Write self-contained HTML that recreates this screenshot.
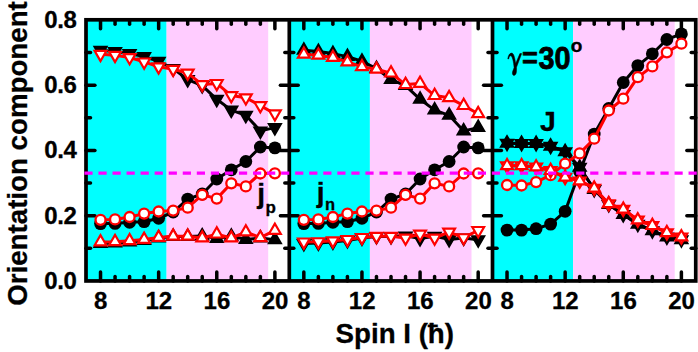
<!DOCTYPE html>
<html><head><meta charset="utf-8"><title>chart</title>
<style>html,body{margin:0;padding:0;background:#fff;}svg{display:block;}</style></head>
<body>
<svg width="698" height="352" viewBox="0 0 698 352">
<rect x="0" y="0" width="698" height="352" fill="#fff"/>
<rect x="86.00" y="19.8" width="80.60" height="261.15" fill="#00ffff"/>
<rect x="166.60" y="19.8" width="101.60" height="261.15" fill="#ffccff"/>
<rect x="289.30" y="19.8" width="80.60" height="261.15" fill="#00ffff"/>
<rect x="369.90" y="19.8" width="101.60" height="261.15" fill="#ffccff"/>
<rect x="492.50" y="19.8" width="80.60" height="261.15" fill="#00ffff"/>
<rect x="573.10" y="19.8" width="101.60" height="261.15" fill="#ffccff"/>
<g stroke="#000" stroke-width="3.7" fill="none" stroke-linecap="butt">
<rect x="86.0" y="19.8" width="609.75" height="261.15"/>
<line x1="289.3" y1="19.8" x2="289.3" y2="280.95"/>
<line x1="492.5" y1="19.8" x2="492.5" y2="280.95"/>
</g>
<g stroke="#000" stroke-width="3.5" fill="none" stroke-linecap="round">
<line x1="100.53" y1="19.8" x2="100.53" y2="28.70"/>
<line x1="100.53" y1="280.95" x2="100.53" y2="272.05"/>
<line x1="115.06" y1="19.8" x2="115.06" y2="24.30"/>
<line x1="115.06" y1="280.95" x2="115.06" y2="276.45"/>
<line x1="129.59" y1="19.8" x2="129.59" y2="24.30"/>
<line x1="129.59" y1="280.95" x2="129.59" y2="276.45"/>
<line x1="144.12" y1="19.8" x2="144.12" y2="24.30"/>
<line x1="144.12" y1="280.95" x2="144.12" y2="276.45"/>
<line x1="158.65" y1="19.8" x2="158.65" y2="28.70"/>
<line x1="158.65" y1="280.95" x2="158.65" y2="272.05"/>
<line x1="173.18" y1="19.8" x2="173.18" y2="24.30"/>
<line x1="173.18" y1="280.95" x2="173.18" y2="276.45"/>
<line x1="187.71" y1="19.8" x2="187.71" y2="24.30"/>
<line x1="187.71" y1="280.95" x2="187.71" y2="276.45"/>
<line x1="202.24" y1="19.8" x2="202.24" y2="24.30"/>
<line x1="202.24" y1="280.95" x2="202.24" y2="276.45"/>
<line x1="216.77" y1="19.8" x2="216.77" y2="28.70"/>
<line x1="216.77" y1="280.95" x2="216.77" y2="272.05"/>
<line x1="231.30" y1="19.8" x2="231.30" y2="24.30"/>
<line x1="231.30" y1="280.95" x2="231.30" y2="276.45"/>
<line x1="245.83" y1="19.8" x2="245.83" y2="24.30"/>
<line x1="245.83" y1="280.95" x2="245.83" y2="276.45"/>
<line x1="260.36" y1="19.8" x2="260.36" y2="24.30"/>
<line x1="260.36" y1="280.95" x2="260.36" y2="276.45"/>
<line x1="274.89" y1="19.8" x2="274.89" y2="28.70"/>
<line x1="274.89" y1="280.95" x2="274.89" y2="272.05"/>
<line x1="86.0" y1="248.32" x2="90.50" y2="248.32"/>
<line x1="289.3" y1="248.32" x2="284.80" y2="248.32"/>
<line x1="86.0" y1="215.70" x2="94.90" y2="215.70"/>
<line x1="289.3" y1="215.70" x2="280.40" y2="215.70"/>
<line x1="86.0" y1="183.07" x2="90.50" y2="183.07"/>
<line x1="289.3" y1="183.07" x2="284.80" y2="183.07"/>
<line x1="86.0" y1="150.45" x2="94.90" y2="150.45"/>
<line x1="289.3" y1="150.45" x2="280.40" y2="150.45"/>
<line x1="86.0" y1="117.82" x2="90.50" y2="117.82"/>
<line x1="289.3" y1="117.82" x2="284.80" y2="117.82"/>
<line x1="86.0" y1="85.20" x2="94.90" y2="85.20"/>
<line x1="289.3" y1="85.20" x2="280.40" y2="85.20"/>
<line x1="86.0" y1="52.58" x2="90.50" y2="52.58"/>
<line x1="289.3" y1="52.58" x2="284.80" y2="52.58"/>
<line x1="303.83" y1="19.8" x2="303.83" y2="28.70"/>
<line x1="303.83" y1="280.95" x2="303.83" y2="272.05"/>
<line x1="318.36" y1="19.8" x2="318.36" y2="24.30"/>
<line x1="318.36" y1="280.95" x2="318.36" y2="276.45"/>
<line x1="332.89" y1="19.8" x2="332.89" y2="24.30"/>
<line x1="332.89" y1="280.95" x2="332.89" y2="276.45"/>
<line x1="347.42" y1="19.8" x2="347.42" y2="24.30"/>
<line x1="347.42" y1="280.95" x2="347.42" y2="276.45"/>
<line x1="361.95" y1="19.8" x2="361.95" y2="28.70"/>
<line x1="361.95" y1="280.95" x2="361.95" y2="272.05"/>
<line x1="376.48" y1="19.8" x2="376.48" y2="24.30"/>
<line x1="376.48" y1="280.95" x2="376.48" y2="276.45"/>
<line x1="391.01" y1="19.8" x2="391.01" y2="24.30"/>
<line x1="391.01" y1="280.95" x2="391.01" y2="276.45"/>
<line x1="405.54" y1="19.8" x2="405.54" y2="24.30"/>
<line x1="405.54" y1="280.95" x2="405.54" y2="276.45"/>
<line x1="420.07" y1="19.8" x2="420.07" y2="28.70"/>
<line x1="420.07" y1="280.95" x2="420.07" y2="272.05"/>
<line x1="434.60" y1="19.8" x2="434.60" y2="24.30"/>
<line x1="434.60" y1="280.95" x2="434.60" y2="276.45"/>
<line x1="449.13" y1="19.8" x2="449.13" y2="24.30"/>
<line x1="449.13" y1="280.95" x2="449.13" y2="276.45"/>
<line x1="463.66" y1="19.8" x2="463.66" y2="24.30"/>
<line x1="463.66" y1="280.95" x2="463.66" y2="276.45"/>
<line x1="478.19" y1="19.8" x2="478.19" y2="28.70"/>
<line x1="478.19" y1="280.95" x2="478.19" y2="272.05"/>
<line x1="289.3" y1="248.32" x2="293.80" y2="248.32"/>
<line x1="492.5" y1="248.32" x2="488.00" y2="248.32"/>
<line x1="289.3" y1="215.70" x2="298.20" y2="215.70"/>
<line x1="492.5" y1="215.70" x2="483.60" y2="215.70"/>
<line x1="289.3" y1="183.07" x2="293.80" y2="183.07"/>
<line x1="492.5" y1="183.07" x2="488.00" y2="183.07"/>
<line x1="289.3" y1="150.45" x2="298.20" y2="150.45"/>
<line x1="492.5" y1="150.45" x2="483.60" y2="150.45"/>
<line x1="289.3" y1="117.82" x2="293.80" y2="117.82"/>
<line x1="492.5" y1="117.82" x2="488.00" y2="117.82"/>
<line x1="289.3" y1="85.20" x2="298.20" y2="85.20"/>
<line x1="492.5" y1="85.20" x2="483.60" y2="85.20"/>
<line x1="289.3" y1="52.58" x2="293.80" y2="52.58"/>
<line x1="492.5" y1="52.58" x2="488.00" y2="52.58"/>
<line x1="507.03" y1="19.8" x2="507.03" y2="28.70"/>
<line x1="507.03" y1="280.95" x2="507.03" y2="272.05"/>
<line x1="521.56" y1="19.8" x2="521.56" y2="24.30"/>
<line x1="521.56" y1="280.95" x2="521.56" y2="276.45"/>
<line x1="536.09" y1="19.8" x2="536.09" y2="24.30"/>
<line x1="536.09" y1="280.95" x2="536.09" y2="276.45"/>
<line x1="550.62" y1="19.8" x2="550.62" y2="24.30"/>
<line x1="550.62" y1="280.95" x2="550.62" y2="276.45"/>
<line x1="565.15" y1="19.8" x2="565.15" y2="28.70"/>
<line x1="565.15" y1="280.95" x2="565.15" y2="272.05"/>
<line x1="579.68" y1="19.8" x2="579.68" y2="24.30"/>
<line x1="579.68" y1="280.95" x2="579.68" y2="276.45"/>
<line x1="594.21" y1="19.8" x2="594.21" y2="24.30"/>
<line x1="594.21" y1="280.95" x2="594.21" y2="276.45"/>
<line x1="608.74" y1="19.8" x2="608.74" y2="24.30"/>
<line x1="608.74" y1="280.95" x2="608.74" y2="276.45"/>
<line x1="623.27" y1="19.8" x2="623.27" y2="28.70"/>
<line x1="623.27" y1="280.95" x2="623.27" y2="272.05"/>
<line x1="637.80" y1="19.8" x2="637.80" y2="24.30"/>
<line x1="637.80" y1="280.95" x2="637.80" y2="276.45"/>
<line x1="652.33" y1="19.8" x2="652.33" y2="24.30"/>
<line x1="652.33" y1="280.95" x2="652.33" y2="276.45"/>
<line x1="666.86" y1="19.8" x2="666.86" y2="24.30"/>
<line x1="666.86" y1="280.95" x2="666.86" y2="276.45"/>
<line x1="681.39" y1="19.8" x2="681.39" y2="28.70"/>
<line x1="681.39" y1="280.95" x2="681.39" y2="272.05"/>
<line x1="492.5" y1="248.32" x2="497.00" y2="248.32"/>
<line x1="695.75" y1="248.32" x2="691.25" y2="248.32"/>
<line x1="492.5" y1="215.70" x2="501.40" y2="215.70"/>
<line x1="695.75" y1="215.70" x2="686.85" y2="215.70"/>
<line x1="492.5" y1="183.07" x2="497.00" y2="183.07"/>
<line x1="695.75" y1="183.07" x2="691.25" y2="183.07"/>
<line x1="492.5" y1="150.45" x2="501.40" y2="150.45"/>
<line x1="695.75" y1="150.45" x2="686.85" y2="150.45"/>
<line x1="492.5" y1="117.82" x2="497.00" y2="117.82"/>
<line x1="695.75" y1="117.82" x2="691.25" y2="117.82"/>
<line x1="492.5" y1="85.20" x2="501.40" y2="85.20"/>
<line x1="695.75" y1="85.20" x2="686.85" y2="85.20"/>
<line x1="492.5" y1="52.58" x2="497.00" y2="52.58"/>
<line x1="695.75" y1="52.58" x2="691.25" y2="52.58"/>
</g>
<polyline points="100.53,50.30 115.06,51.60 129.59,53.60 144.12,56.60 158.65,61.30 173.18,68.50 187.71,79.60 202.24,85.60 216.77,99.30 231.30,110.10 245.83,115.30 260.36,130.90 274.89,127.60" fill="none" stroke="#000" stroke-width="3" stroke-linejoin="round"/>
<polygon points="100.53,57.11 94.63,46.89 106.43,46.89" fill="#000" stroke="#000" stroke-width="2.2" stroke-linejoin="miter"/>
<polygon points="115.06,58.41 109.16,48.19 120.96,48.19" fill="#000" stroke="#000" stroke-width="2.2" stroke-linejoin="miter"/>
<polygon points="129.59,60.41 123.69,50.19 135.49,50.19" fill="#000" stroke="#000" stroke-width="2.2" stroke-linejoin="miter"/>
<polygon points="144.12,63.41 138.22,53.19 150.02,53.19" fill="#000" stroke="#000" stroke-width="2.2" stroke-linejoin="miter"/>
<polygon points="158.65,68.11 152.75,57.89 164.55,57.89" fill="#000" stroke="#000" stroke-width="2.2" stroke-linejoin="miter"/>
<polygon points="173.18,75.31 167.28,65.09 179.08,65.09" fill="#000" stroke="#000" stroke-width="2.2" stroke-linejoin="miter"/>
<polygon points="187.71,86.41 181.81,76.19 193.61,76.19" fill="#000" stroke="#000" stroke-width="2.2" stroke-linejoin="miter"/>
<polygon points="202.24,92.41 196.34,82.19 208.14,82.19" fill="#000" stroke="#000" stroke-width="2.2" stroke-linejoin="miter"/>
<polygon points="216.77,106.11 210.87,95.89 222.67,95.89" fill="#000" stroke="#000" stroke-width="2.2" stroke-linejoin="miter"/>
<polygon points="231.30,116.91 225.40,106.69 237.20,106.69" fill="#000" stroke="#000" stroke-width="2.2" stroke-linejoin="miter"/>
<polygon points="245.83,122.11 239.93,111.89 251.73,111.89" fill="#000" stroke="#000" stroke-width="2.2" stroke-linejoin="miter"/>
<polygon points="260.36,137.71 254.46,127.49 266.26,127.49" fill="#000" stroke="#000" stroke-width="2.2" stroke-linejoin="miter"/>
<polygon points="274.89,134.41 268.99,124.19 280.79,124.19" fill="#000" stroke="#000" stroke-width="2.2" stroke-linejoin="miter"/>
<polyline points="100.53,223.60 115.06,223.40 129.59,222.30 144.12,221.70 158.65,218.30 173.18,212.00 187.71,199.10 202.24,194.00 216.77,179.00 231.30,169.80 245.83,161.50 260.36,147.00 274.89,147.90" fill="none" stroke="#000" stroke-width="3" stroke-linejoin="round"/>
<circle cx="100.53" cy="223.60" r="6.4" fill="#000"/>
<circle cx="115.06" cy="223.40" r="6.4" fill="#000"/>
<circle cx="129.59" cy="222.30" r="6.4" fill="#000"/>
<circle cx="144.12" cy="221.70" r="6.4" fill="#000"/>
<circle cx="158.65" cy="218.30" r="6.4" fill="#000"/>
<circle cx="173.18" cy="212.00" r="6.4" fill="#000"/>
<circle cx="187.71" cy="199.10" r="6.4" fill="#000"/>
<circle cx="202.24" cy="194.00" r="6.4" fill="#000"/>
<circle cx="216.77" cy="179.00" r="6.4" fill="#000"/>
<circle cx="231.30" cy="169.80" r="6.4" fill="#000"/>
<circle cx="245.83" cy="161.50" r="6.4" fill="#000"/>
<circle cx="260.36" cy="147.00" r="6.4" fill="#000"/>
<circle cx="274.89" cy="147.90" r="6.4" fill="#000"/>
<polyline points="100.53,243.50 115.06,243.00 129.59,242.00 144.12,240.50 158.65,238.00 173.18,236.50 187.71,236.50 202.24,235.90 216.77,238.60 231.30,236.30 245.83,239.40 260.36,238.00 274.89,239.70" fill="none" stroke="#000" stroke-width="3" stroke-linejoin="round"/>
<polygon points="100.53,236.69 94.63,246.91 106.43,246.91" fill="#000" stroke="#000" stroke-width="2.2" stroke-linejoin="miter"/>
<polygon points="115.06,236.19 109.16,246.41 120.96,246.41" fill="#000" stroke="#000" stroke-width="2.2" stroke-linejoin="miter"/>
<polygon points="129.59,235.19 123.69,245.41 135.49,245.41" fill="#000" stroke="#000" stroke-width="2.2" stroke-linejoin="miter"/>
<polygon points="144.12,233.69 138.22,243.91 150.02,243.91" fill="#000" stroke="#000" stroke-width="2.2" stroke-linejoin="miter"/>
<polygon points="158.65,231.19 152.75,241.41 164.55,241.41" fill="#000" stroke="#000" stroke-width="2.2" stroke-linejoin="miter"/>
<polygon points="173.18,229.69 167.28,239.91 179.08,239.91" fill="#000" stroke="#000" stroke-width="2.2" stroke-linejoin="miter"/>
<polygon points="187.71,229.69 181.81,239.91 193.61,239.91" fill="#000" stroke="#000" stroke-width="2.2" stroke-linejoin="miter"/>
<polygon points="202.24,229.09 196.34,239.31 208.14,239.31" fill="#000" stroke="#000" stroke-width="2.2" stroke-linejoin="miter"/>
<polygon points="216.77,231.79 210.87,242.01 222.67,242.01" fill="#000" stroke="#000" stroke-width="2.2" stroke-linejoin="miter"/>
<polygon points="231.30,229.49 225.40,239.71 237.20,239.71" fill="#000" stroke="#000" stroke-width="2.2" stroke-linejoin="miter"/>
<polygon points="245.83,232.59 239.93,242.81 251.73,242.81" fill="#000" stroke="#000" stroke-width="2.2" stroke-linejoin="miter"/>
<polygon points="260.36,231.19 254.46,241.41 266.26,241.41" fill="#000" stroke="#000" stroke-width="2.2" stroke-linejoin="miter"/>
<polygon points="274.89,232.89 268.99,243.11 280.79,243.11" fill="#000" stroke="#000" stroke-width="2.2" stroke-linejoin="miter"/>
<polyline points="100.53,54.30 115.06,55.30 129.59,57.50 144.12,61.90 158.65,66.80 173.18,69.30 187.71,73.10 202.24,84.60 216.77,83.40 231.30,95.60 245.83,97.70 260.36,105.60 274.89,113.70" fill="none" stroke="#ff0000" stroke-width="3" stroke-linejoin="round"/>
<polygon points="100.53,61.11 94.63,50.89 106.43,50.89" fill="#fff" stroke="#ff0000" stroke-width="2.2" stroke-linejoin="miter"/>
<polygon points="115.06,62.11 109.16,51.89 120.96,51.89" fill="#fff" stroke="#ff0000" stroke-width="2.2" stroke-linejoin="miter"/>
<polygon points="129.59,64.31 123.69,54.09 135.49,54.09" fill="#fff" stroke="#ff0000" stroke-width="2.2" stroke-linejoin="miter"/>
<polygon points="144.12,68.71 138.22,58.49 150.02,58.49" fill="#fff" stroke="#ff0000" stroke-width="2.2" stroke-linejoin="miter"/>
<polygon points="158.65,73.61 152.75,63.39 164.55,63.39" fill="#fff" stroke="#ff0000" stroke-width="2.2" stroke-linejoin="miter"/>
<polygon points="173.18,76.11 167.28,65.89 179.08,65.89" fill="#fff" stroke="#ff0000" stroke-width="2.2" stroke-linejoin="miter"/>
<polygon points="187.71,79.91 181.81,69.69 193.61,69.69" fill="#fff" stroke="#ff0000" stroke-width="2.2" stroke-linejoin="miter"/>
<polygon points="202.24,91.41 196.34,81.19 208.14,81.19" fill="#fff" stroke="#ff0000" stroke-width="2.2" stroke-linejoin="miter"/>
<polygon points="216.77,90.21 210.87,79.99 222.67,79.99" fill="#fff" stroke="#ff0000" stroke-width="2.2" stroke-linejoin="miter"/>
<polygon points="231.30,102.41 225.40,92.19 237.20,92.19" fill="#fff" stroke="#ff0000" stroke-width="2.2" stroke-linejoin="miter"/>
<polygon points="245.83,104.51 239.93,94.29 251.73,94.29" fill="#fff" stroke="#ff0000" stroke-width="2.2" stroke-linejoin="miter"/>
<polygon points="260.36,112.41 254.46,102.19 266.26,102.19" fill="#fff" stroke="#ff0000" stroke-width="2.2" stroke-linejoin="miter"/>
<polygon points="274.89,120.51 268.99,110.29 280.79,110.29" fill="#fff" stroke="#ff0000" stroke-width="2.2" stroke-linejoin="miter"/>
<polyline points="100.53,219.80 115.06,219.40 129.59,217.00 144.12,213.60 158.65,211.50 173.18,210.60 187.71,207.70 202.24,194.80 216.77,198.60 231.30,183.30 245.83,186.40 260.36,173.50 274.89,173.30" fill="none" stroke="#ff0000" stroke-width="3" stroke-linejoin="round"/>
<circle cx="100.53" cy="219.80" r="5.0" fill="#fff" stroke="#ff0000" stroke-width="2.3"/>
<circle cx="115.06" cy="219.40" r="5.0" fill="#fff" stroke="#ff0000" stroke-width="2.3"/>
<circle cx="129.59" cy="217.00" r="5.0" fill="#fff" stroke="#ff0000" stroke-width="2.3"/>
<circle cx="144.12" cy="213.60" r="5.0" fill="#fff" stroke="#ff0000" stroke-width="2.3"/>
<circle cx="158.65" cy="211.50" r="5.0" fill="#fff" stroke="#ff0000" stroke-width="2.3"/>
<circle cx="173.18" cy="210.60" r="5.0" fill="#fff" stroke="#ff0000" stroke-width="2.3"/>
<circle cx="187.71" cy="207.70" r="5.0" fill="#fff" stroke="#ff0000" stroke-width="2.3"/>
<circle cx="202.24" cy="194.80" r="5.0" fill="#fff" stroke="#ff0000" stroke-width="2.3"/>
<circle cx="216.77" cy="198.60" r="5.0" fill="#fff" stroke="#ff0000" stroke-width="2.3"/>
<circle cx="231.30" cy="183.30" r="5.0" fill="#fff" stroke="#ff0000" stroke-width="2.3"/>
<circle cx="245.83" cy="186.40" r="5.0" fill="#fff" stroke="#ff0000" stroke-width="2.3"/>
<circle cx="260.36" cy="173.50" r="5.0" fill="#fff" stroke="#ff0000" stroke-width="2.3"/>
<circle cx="274.89" cy="173.30" r="5.0" fill="#fff" stroke="#ff0000" stroke-width="2.3"/>
<polyline points="100.53,241.90 115.06,241.65 129.59,240.80 144.12,239.40 158.65,237.40 173.18,236.20 187.71,236.20 202.24,238.00 216.77,234.10 231.30,238.00 245.83,232.05 260.36,237.65 274.89,230.40" fill="none" stroke="#ff0000" stroke-width="3" stroke-linejoin="round"/>
<polygon points="100.53,235.09 94.63,245.31 106.43,245.31" fill="#fff" stroke="#ff0000" stroke-width="2.2" stroke-linejoin="miter"/>
<polygon points="115.06,234.84 109.16,245.06 120.96,245.06" fill="#fff" stroke="#ff0000" stroke-width="2.2" stroke-linejoin="miter"/>
<polygon points="129.59,233.99 123.69,244.21 135.49,244.21" fill="#fff" stroke="#ff0000" stroke-width="2.2" stroke-linejoin="miter"/>
<polygon points="144.12,232.59 138.22,242.81 150.02,242.81" fill="#fff" stroke="#ff0000" stroke-width="2.2" stroke-linejoin="miter"/>
<polygon points="158.65,230.59 152.75,240.81 164.55,240.81" fill="#fff" stroke="#ff0000" stroke-width="2.2" stroke-linejoin="miter"/>
<polygon points="173.18,229.39 167.28,239.61 179.08,239.61" fill="#fff" stroke="#ff0000" stroke-width="2.2" stroke-linejoin="miter"/>
<polygon points="187.71,229.39 181.81,239.61 193.61,239.61" fill="#fff" stroke="#ff0000" stroke-width="2.2" stroke-linejoin="miter"/>
<polygon points="202.24,231.19 196.34,241.41 208.14,241.41" fill="#fff" stroke="#ff0000" stroke-width="2.2" stroke-linejoin="miter"/>
<polygon points="216.77,227.29 210.87,237.51 222.67,237.51" fill="#fff" stroke="#ff0000" stroke-width="2.2" stroke-linejoin="miter"/>
<polygon points="231.30,231.19 225.40,241.41 237.20,241.41" fill="#fff" stroke="#ff0000" stroke-width="2.2" stroke-linejoin="miter"/>
<polygon points="245.83,225.24 239.93,235.46 251.73,235.46" fill="#fff" stroke="#ff0000" stroke-width="2.2" stroke-linejoin="miter"/>
<polygon points="260.36,230.84 254.46,241.06 266.26,241.06" fill="#fff" stroke="#ff0000" stroke-width="2.2" stroke-linejoin="miter"/>
<polygon points="274.89,223.59 268.99,233.81 280.79,233.81" fill="#fff" stroke="#ff0000" stroke-width="2.2" stroke-linejoin="miter"/>
<polyline points="303.83,50.30 318.36,51.60 332.89,53.60 347.42,56.60 361.95,61.30 376.48,68.50 391.01,79.60 405.54,85.60 420.07,99.30 434.60,110.10 449.13,115.30 463.66,130.90 478.19,127.60" fill="none" stroke="#000" stroke-width="3" stroke-linejoin="round"/>
<polygon points="303.83,43.49 297.93,53.71 309.73,53.71" fill="#000" stroke="#000" stroke-width="2.2" stroke-linejoin="miter"/>
<polygon points="318.36,44.79 312.46,55.01 324.26,55.01" fill="#000" stroke="#000" stroke-width="2.2" stroke-linejoin="miter"/>
<polygon points="332.89,46.79 326.99,57.01 338.79,57.01" fill="#000" stroke="#000" stroke-width="2.2" stroke-linejoin="miter"/>
<polygon points="347.42,49.79 341.52,60.01 353.32,60.01" fill="#000" stroke="#000" stroke-width="2.2" stroke-linejoin="miter"/>
<polygon points="361.95,54.49 356.05,64.71 367.85,64.71" fill="#000" stroke="#000" stroke-width="2.2" stroke-linejoin="miter"/>
<polygon points="376.48,61.69 370.58,71.91 382.38,71.91" fill="#000" stroke="#000" stroke-width="2.2" stroke-linejoin="miter"/>
<polygon points="391.01,72.79 385.11,83.01 396.91,83.01" fill="#000" stroke="#000" stroke-width="2.2" stroke-linejoin="miter"/>
<polygon points="405.54,78.79 399.64,89.01 411.44,89.01" fill="#000" stroke="#000" stroke-width="2.2" stroke-linejoin="miter"/>
<polygon points="420.07,92.49 414.17,102.71 425.97,102.71" fill="#000" stroke="#000" stroke-width="2.2" stroke-linejoin="miter"/>
<polygon points="434.60,103.29 428.70,113.51 440.50,113.51" fill="#000" stroke="#000" stroke-width="2.2" stroke-linejoin="miter"/>
<polygon points="449.13,108.49 443.23,118.71 455.03,118.71" fill="#000" stroke="#000" stroke-width="2.2" stroke-linejoin="miter"/>
<polygon points="463.66,124.09 457.76,134.31 469.56,134.31" fill="#000" stroke="#000" stroke-width="2.2" stroke-linejoin="miter"/>
<polygon points="478.19,120.79 472.29,131.01 484.09,131.01" fill="#000" stroke="#000" stroke-width="2.2" stroke-linejoin="miter"/>
<polyline points="303.83,223.60 318.36,223.40 332.89,222.30 347.42,221.70 361.95,218.30 376.48,212.00 391.01,199.10 405.54,194.00 420.07,179.00 434.60,169.80 449.13,161.50 463.66,147.00 478.19,147.90" fill="none" stroke="#000" stroke-width="3" stroke-linejoin="round"/>
<circle cx="303.83" cy="223.60" r="6.4" fill="#000"/>
<circle cx="318.36" cy="223.40" r="6.4" fill="#000"/>
<circle cx="332.89" cy="222.30" r="6.4" fill="#000"/>
<circle cx="347.42" cy="221.70" r="6.4" fill="#000"/>
<circle cx="361.95" cy="218.30" r="6.4" fill="#000"/>
<circle cx="376.48" cy="212.00" r="6.4" fill="#000"/>
<circle cx="391.01" cy="199.10" r="6.4" fill="#000"/>
<circle cx="405.54" cy="194.00" r="6.4" fill="#000"/>
<circle cx="420.07" cy="179.00" r="6.4" fill="#000"/>
<circle cx="434.60" cy="169.80" r="6.4" fill="#000"/>
<circle cx="449.13" cy="161.50" r="6.4" fill="#000"/>
<circle cx="463.66" cy="147.00" r="6.4" fill="#000"/>
<circle cx="478.19" cy="147.90" r="6.4" fill="#000"/>
<polyline points="303.83,243.50 318.36,243.00 332.89,242.00 347.42,240.50 361.95,238.00 376.48,236.50 391.01,236.50 405.54,235.90 420.07,238.60 434.60,236.30 449.13,239.40 463.66,238.00 478.19,239.70" fill="none" stroke="#000" stroke-width="3" stroke-linejoin="round"/>
<polygon points="303.83,250.31 297.93,240.09 309.73,240.09" fill="#000" stroke="#000" stroke-width="2.2" stroke-linejoin="miter"/>
<polygon points="318.36,249.81 312.46,239.59 324.26,239.59" fill="#000" stroke="#000" stroke-width="2.2" stroke-linejoin="miter"/>
<polygon points="332.89,248.81 326.99,238.59 338.79,238.59" fill="#000" stroke="#000" stroke-width="2.2" stroke-linejoin="miter"/>
<polygon points="347.42,247.31 341.52,237.09 353.32,237.09" fill="#000" stroke="#000" stroke-width="2.2" stroke-linejoin="miter"/>
<polygon points="361.95,244.81 356.05,234.59 367.85,234.59" fill="#000" stroke="#000" stroke-width="2.2" stroke-linejoin="miter"/>
<polygon points="376.48,243.31 370.58,233.09 382.38,233.09" fill="#000" stroke="#000" stroke-width="2.2" stroke-linejoin="miter"/>
<polygon points="391.01,243.31 385.11,233.09 396.91,233.09" fill="#000" stroke="#000" stroke-width="2.2" stroke-linejoin="miter"/>
<polygon points="405.54,242.71 399.64,232.49 411.44,232.49" fill="#000" stroke="#000" stroke-width="2.2" stroke-linejoin="miter"/>
<polygon points="420.07,245.41 414.17,235.19 425.97,235.19" fill="#000" stroke="#000" stroke-width="2.2" stroke-linejoin="miter"/>
<polygon points="434.60,243.11 428.70,232.89 440.50,232.89" fill="#000" stroke="#000" stroke-width="2.2" stroke-linejoin="miter"/>
<polygon points="449.13,246.21 443.23,235.99 455.03,235.99" fill="#000" stroke="#000" stroke-width="2.2" stroke-linejoin="miter"/>
<polygon points="463.66,244.81 457.76,234.59 469.56,234.59" fill="#000" stroke="#000" stroke-width="2.2" stroke-linejoin="miter"/>
<polygon points="478.19,246.51 472.29,236.29 484.09,236.29" fill="#000" stroke="#000" stroke-width="2.2" stroke-linejoin="miter"/>
<polyline points="303.83,54.30 318.36,55.30 332.89,57.50 347.42,61.90 361.95,66.80 376.48,69.30 391.01,73.10 405.54,84.60 420.07,83.40 434.60,95.60 449.13,97.70 463.66,105.60 478.19,113.70" fill="none" stroke="#ff0000" stroke-width="3" stroke-linejoin="round"/>
<polygon points="303.83,47.49 297.93,57.71 309.73,57.71" fill="#fff" stroke="#ff0000" stroke-width="2.2" stroke-linejoin="miter"/>
<polygon points="318.36,48.49 312.46,58.71 324.26,58.71" fill="#fff" stroke="#ff0000" stroke-width="2.2" stroke-linejoin="miter"/>
<polygon points="332.89,50.69 326.99,60.91 338.79,60.91" fill="#fff" stroke="#ff0000" stroke-width="2.2" stroke-linejoin="miter"/>
<polygon points="347.42,55.09 341.52,65.31 353.32,65.31" fill="#fff" stroke="#ff0000" stroke-width="2.2" stroke-linejoin="miter"/>
<polygon points="361.95,59.99 356.05,70.21 367.85,70.21" fill="#fff" stroke="#ff0000" stroke-width="2.2" stroke-linejoin="miter"/>
<polygon points="376.48,62.49 370.58,72.71 382.38,72.71" fill="#fff" stroke="#ff0000" stroke-width="2.2" stroke-linejoin="miter"/>
<polygon points="391.01,66.29 385.11,76.51 396.91,76.51" fill="#fff" stroke="#ff0000" stroke-width="2.2" stroke-linejoin="miter"/>
<polygon points="405.54,77.79 399.64,88.01 411.44,88.01" fill="#fff" stroke="#ff0000" stroke-width="2.2" stroke-linejoin="miter"/>
<polygon points="420.07,76.59 414.17,86.81 425.97,86.81" fill="#fff" stroke="#ff0000" stroke-width="2.2" stroke-linejoin="miter"/>
<polygon points="434.60,88.79 428.70,99.01 440.50,99.01" fill="#fff" stroke="#ff0000" stroke-width="2.2" stroke-linejoin="miter"/>
<polygon points="449.13,90.89 443.23,101.11 455.03,101.11" fill="#fff" stroke="#ff0000" stroke-width="2.2" stroke-linejoin="miter"/>
<polygon points="463.66,98.79 457.76,109.01 469.56,109.01" fill="#fff" stroke="#ff0000" stroke-width="2.2" stroke-linejoin="miter"/>
<polygon points="478.19,106.89 472.29,117.11 484.09,117.11" fill="#fff" stroke="#ff0000" stroke-width="2.2" stroke-linejoin="miter"/>
<polyline points="303.83,219.80 318.36,219.40 332.89,217.00 347.42,213.60 361.95,211.50 376.48,210.60 391.01,207.70 405.54,194.80 420.07,198.60 434.60,183.30 449.13,186.40 463.66,173.50 478.19,173.30" fill="none" stroke="#ff0000" stroke-width="3" stroke-linejoin="round"/>
<circle cx="303.83" cy="219.80" r="5.0" fill="#fff" stroke="#ff0000" stroke-width="2.3"/>
<circle cx="318.36" cy="219.40" r="5.0" fill="#fff" stroke="#ff0000" stroke-width="2.3"/>
<circle cx="332.89" cy="217.00" r="5.0" fill="#fff" stroke="#ff0000" stroke-width="2.3"/>
<circle cx="347.42" cy="213.60" r="5.0" fill="#fff" stroke="#ff0000" stroke-width="2.3"/>
<circle cx="361.95" cy="211.50" r="5.0" fill="#fff" stroke="#ff0000" stroke-width="2.3"/>
<circle cx="376.48" cy="210.60" r="5.0" fill="#fff" stroke="#ff0000" stroke-width="2.3"/>
<circle cx="391.01" cy="207.70" r="5.0" fill="#fff" stroke="#ff0000" stroke-width="2.3"/>
<circle cx="405.54" cy="194.80" r="5.0" fill="#fff" stroke="#ff0000" stroke-width="2.3"/>
<circle cx="420.07" cy="198.60" r="5.0" fill="#fff" stroke="#ff0000" stroke-width="2.3"/>
<circle cx="434.60" cy="183.30" r="5.0" fill="#fff" stroke="#ff0000" stroke-width="2.3"/>
<circle cx="449.13" cy="186.40" r="5.0" fill="#fff" stroke="#ff0000" stroke-width="2.3"/>
<circle cx="463.66" cy="173.50" r="5.0" fill="#fff" stroke="#ff0000" stroke-width="2.3"/>
<circle cx="478.19" cy="173.30" r="5.0" fill="#fff" stroke="#ff0000" stroke-width="2.3"/>
<polyline points="303.83,241.90 318.36,241.65 332.89,240.80 347.42,239.40 361.95,237.40 376.48,236.20 391.01,236.20 405.54,238.00 420.07,234.10 434.60,238.00 449.13,232.05 463.66,237.65 478.19,230.40" fill="none" stroke="#ff0000" stroke-width="3" stroke-linejoin="round"/>
<polygon points="303.83,248.71 297.93,238.49 309.73,238.49" fill="#fff" stroke="#ff0000" stroke-width="2.2" stroke-linejoin="miter"/>
<polygon points="318.36,248.46 312.46,238.24 324.26,238.24" fill="#fff" stroke="#ff0000" stroke-width="2.2" stroke-linejoin="miter"/>
<polygon points="332.89,247.61 326.99,237.39 338.79,237.39" fill="#fff" stroke="#ff0000" stroke-width="2.2" stroke-linejoin="miter"/>
<polygon points="347.42,246.21 341.52,235.99 353.32,235.99" fill="#fff" stroke="#ff0000" stroke-width="2.2" stroke-linejoin="miter"/>
<polygon points="361.95,244.21 356.05,233.99 367.85,233.99" fill="#fff" stroke="#ff0000" stroke-width="2.2" stroke-linejoin="miter"/>
<polygon points="376.48,243.01 370.58,232.79 382.38,232.79" fill="#fff" stroke="#ff0000" stroke-width="2.2" stroke-linejoin="miter"/>
<polygon points="391.01,243.01 385.11,232.79 396.91,232.79" fill="#fff" stroke="#ff0000" stroke-width="2.2" stroke-linejoin="miter"/>
<polygon points="405.54,244.81 399.64,234.59 411.44,234.59" fill="#fff" stroke="#ff0000" stroke-width="2.2" stroke-linejoin="miter"/>
<polygon points="420.07,240.91 414.17,230.69 425.97,230.69" fill="#fff" stroke="#ff0000" stroke-width="2.2" stroke-linejoin="miter"/>
<polygon points="434.60,244.81 428.70,234.59 440.50,234.59" fill="#fff" stroke="#ff0000" stroke-width="2.2" stroke-linejoin="miter"/>
<polygon points="449.13,238.86 443.23,228.64 455.03,228.64" fill="#fff" stroke="#ff0000" stroke-width="2.2" stroke-linejoin="miter"/>
<polygon points="463.66,244.46 457.76,234.24 469.56,234.24" fill="#fff" stroke="#ff0000" stroke-width="2.2" stroke-linejoin="miter"/>
<polygon points="478.19,237.21 472.29,226.99 484.09,226.99" fill="#fff" stroke="#ff0000" stroke-width="2.2" stroke-linejoin="miter"/>
<polyline points="507.03,143.20 521.56,143.40 536.09,143.50 550.62,146.20 565.15,151.70 579.68,167.30 594.21,189.50 608.74,204.50 623.27,214.60 637.80,224.20 652.33,230.70 666.86,237.00 681.39,239.70" fill="none" stroke="#000" stroke-width="3" stroke-linejoin="round"/>
<polygon points="507.03,150.01 501.13,139.79 512.93,139.79" fill="#000" stroke="#000" stroke-width="2.2" stroke-linejoin="miter"/>
<polygon points="521.56,150.21 515.66,139.99 527.46,139.99" fill="#000" stroke="#000" stroke-width="2.2" stroke-linejoin="miter"/>
<polygon points="536.09,150.31 530.19,140.09 541.99,140.09" fill="#000" stroke="#000" stroke-width="2.2" stroke-linejoin="miter"/>
<polygon points="550.62,153.01 544.72,142.79 556.52,142.79" fill="#000" stroke="#000" stroke-width="2.2" stroke-linejoin="miter"/>
<polygon points="565.15,158.51 559.25,148.29 571.05,148.29" fill="#000" stroke="#000" stroke-width="2.2" stroke-linejoin="miter"/>
<polygon points="579.68,174.11 573.78,163.89 585.58,163.89" fill="#000" stroke="#000" stroke-width="2.2" stroke-linejoin="miter"/>
<polygon points="594.21,196.31 588.31,186.09 600.11,186.09" fill="#000" stroke="#000" stroke-width="2.2" stroke-linejoin="miter"/>
<polygon points="608.74,211.31 602.84,201.09 614.64,201.09" fill="#000" stroke="#000" stroke-width="2.2" stroke-linejoin="miter"/>
<polygon points="623.27,221.41 617.37,211.19 629.17,211.19" fill="#000" stroke="#000" stroke-width="2.2" stroke-linejoin="miter"/>
<polygon points="637.80,231.01 631.90,220.79 643.70,220.79" fill="#000" stroke="#000" stroke-width="2.2" stroke-linejoin="miter"/>
<polygon points="652.33,237.51 646.43,227.29 658.23,227.29" fill="#000" stroke="#000" stroke-width="2.2" stroke-linejoin="miter"/>
<polygon points="666.86,243.81 660.96,233.59 672.76,233.59" fill="#000" stroke="#000" stroke-width="2.2" stroke-linejoin="miter"/>
<polygon points="681.39,246.51 675.49,236.29 687.29,236.29" fill="#000" stroke="#000" stroke-width="2.2" stroke-linejoin="miter"/>
<polyline points="507.03,143.20 521.56,143.40 536.09,143.50 550.62,146.20 565.15,151.70 579.68,167.30 594.21,189.50 608.74,204.50 623.27,214.60 637.80,224.20 652.33,230.70 666.86,237.00 681.39,239.70" fill="none" stroke="#000" stroke-width="3" stroke-linejoin="round"/>
<polygon points="507.03,136.39 501.13,146.61 512.93,146.61" fill="#000" stroke="#000" stroke-width="2.2" stroke-linejoin="miter"/>
<polygon points="521.56,136.59 515.66,146.81 527.46,146.81" fill="#000" stroke="#000" stroke-width="2.2" stroke-linejoin="miter"/>
<polygon points="536.09,136.69 530.19,146.91 541.99,146.91" fill="#000" stroke="#000" stroke-width="2.2" stroke-linejoin="miter"/>
<polygon points="550.62,139.39 544.72,149.61 556.52,149.61" fill="#000" stroke="#000" stroke-width="2.2" stroke-linejoin="miter"/>
<polygon points="565.15,144.89 559.25,155.11 571.05,155.11" fill="#000" stroke="#000" stroke-width="2.2" stroke-linejoin="miter"/>
<polygon points="579.68,160.49 573.78,170.71 585.58,170.71" fill="#000" stroke="#000" stroke-width="2.2" stroke-linejoin="miter"/>
<polygon points="594.21,182.69 588.31,192.91 600.11,192.91" fill="#000" stroke="#000" stroke-width="2.2" stroke-linejoin="miter"/>
<polygon points="608.74,197.69 602.84,207.91 614.64,207.91" fill="#000" stroke="#000" stroke-width="2.2" stroke-linejoin="miter"/>
<polygon points="623.27,207.79 617.37,218.01 629.17,218.01" fill="#000" stroke="#000" stroke-width="2.2" stroke-linejoin="miter"/>
<polygon points="637.80,217.39 631.90,227.61 643.70,227.61" fill="#000" stroke="#000" stroke-width="2.2" stroke-linejoin="miter"/>
<polygon points="652.33,223.89 646.43,234.11 658.23,234.11" fill="#000" stroke="#000" stroke-width="2.2" stroke-linejoin="miter"/>
<polygon points="666.86,230.19 660.96,240.41 672.76,240.41" fill="#000" stroke="#000" stroke-width="2.2" stroke-linejoin="miter"/>
<polygon points="681.39,232.89 675.49,243.11 687.29,243.11" fill="#000" stroke="#000" stroke-width="2.2" stroke-linejoin="miter"/>
<polyline points="507.03,230.10 521.56,230.10 536.09,228.70 550.62,224.10 565.15,211.30 579.68,171.70 594.21,134.10 608.74,108.50 623.27,82.50 637.80,65.60 652.33,53.80 666.86,39.50 681.39,33.90" fill="none" stroke="#000" stroke-width="3" stroke-linejoin="round"/>
<circle cx="507.03" cy="230.10" r="6.4" fill="#000"/>
<circle cx="521.56" cy="230.10" r="6.4" fill="#000"/>
<circle cx="536.09" cy="228.70" r="6.4" fill="#000"/>
<circle cx="550.62" cy="224.10" r="6.4" fill="#000"/>
<circle cx="565.15" cy="211.30" r="6.4" fill="#000"/>
<circle cx="579.68" cy="171.70" r="6.4" fill="#000"/>
<circle cx="594.21" cy="134.10" r="6.4" fill="#000"/>
<circle cx="608.74" cy="108.50" r="6.4" fill="#000"/>
<circle cx="623.27" cy="82.50" r="6.4" fill="#000"/>
<circle cx="637.80" cy="65.60" r="6.4" fill="#000"/>
<circle cx="652.33" cy="53.80" r="6.4" fill="#000"/>
<circle cx="666.86" cy="39.50" r="6.4" fill="#000"/>
<circle cx="681.39" cy="33.90" r="6.4" fill="#000"/>
<polyline points="507.03,185.00 521.56,185.50 536.09,182.10 550.62,175.20 565.15,163.60 579.68,153.40 594.21,138.70 608.74,110.50 623.27,98.70 637.80,77.20 652.33,66.40 666.86,52.30 681.39,43.70" fill="none" stroke="#ff0000" stroke-width="3" stroke-linejoin="round"/>
<circle cx="507.03" cy="185.00" r="5.0" fill="#fff" stroke="#ff0000" stroke-width="2.3"/>
<circle cx="521.56" cy="185.50" r="5.0" fill="#fff" stroke="#ff0000" stroke-width="2.3"/>
<circle cx="536.09" cy="182.10" r="5.0" fill="#fff" stroke="#ff0000" stroke-width="2.3"/>
<circle cx="550.62" cy="175.20" r="5.0" fill="#fff" stroke="#ff0000" stroke-width="2.3"/>
<circle cx="565.15" cy="163.60" r="5.0" fill="#fff" stroke="#ff0000" stroke-width="2.3"/>
<circle cx="579.68" cy="153.40" r="5.0" fill="#fff" stroke="#ff0000" stroke-width="2.3"/>
<circle cx="594.21" cy="138.70" r="5.0" fill="#fff" stroke="#ff0000" stroke-width="2.3"/>
<circle cx="608.74" cy="110.50" r="5.0" fill="#fff" stroke="#ff0000" stroke-width="2.3"/>
<circle cx="623.27" cy="98.70" r="5.0" fill="#fff" stroke="#ff0000" stroke-width="2.3"/>
<circle cx="637.80" cy="77.20" r="5.0" fill="#fff" stroke="#ff0000" stroke-width="2.3"/>
<circle cx="652.33" cy="66.40" r="5.0" fill="#fff" stroke="#ff0000" stroke-width="2.3"/>
<circle cx="666.86" cy="52.30" r="5.0" fill="#fff" stroke="#ff0000" stroke-width="2.3"/>
<circle cx="681.39" cy="43.70" r="5.0" fill="#fff" stroke="#ff0000" stroke-width="2.3"/>
<polyline points="507.03,165.80 521.56,165.80 536.09,167.00 550.62,170.60 565.15,177.30 579.68,180.90 594.21,188.20 608.74,203.70 623.27,209.30 637.80,219.90 652.33,225.60 666.86,232.70 681.39,236.90" fill="none" stroke="#ff0000" stroke-width="3" stroke-linejoin="round"/>
<polygon points="507.03,172.61 501.13,162.39 512.93,162.39" fill="#fff" stroke="#ff0000" stroke-width="2.2" stroke-linejoin="miter"/>
<polygon points="521.56,172.61 515.66,162.39 527.46,162.39" fill="#fff" stroke="#ff0000" stroke-width="2.2" stroke-linejoin="miter"/>
<polygon points="536.09,173.81 530.19,163.59 541.99,163.59" fill="#fff" stroke="#ff0000" stroke-width="2.2" stroke-linejoin="miter"/>
<polygon points="550.62,177.41 544.72,167.19 556.52,167.19" fill="#fff" stroke="#ff0000" stroke-width="2.2" stroke-linejoin="miter"/>
<polygon points="565.15,184.11 559.25,173.89 571.05,173.89" fill="#fff" stroke="#ff0000" stroke-width="2.2" stroke-linejoin="miter"/>
<polygon points="579.68,187.71 573.78,177.49 585.58,177.49" fill="#fff" stroke="#ff0000" stroke-width="2.2" stroke-linejoin="miter"/>
<polygon points="594.21,195.01 588.31,184.79 600.11,184.79" fill="#fff" stroke="#ff0000" stroke-width="2.2" stroke-linejoin="miter"/>
<polygon points="608.74,210.51 602.84,200.29 614.64,200.29" fill="#fff" stroke="#ff0000" stroke-width="2.2" stroke-linejoin="miter"/>
<polygon points="623.27,216.11 617.37,205.89 629.17,205.89" fill="#fff" stroke="#ff0000" stroke-width="2.2" stroke-linejoin="miter"/>
<polygon points="637.80,226.71 631.90,216.49 643.70,216.49" fill="#fff" stroke="#ff0000" stroke-width="2.2" stroke-linejoin="miter"/>
<polygon points="652.33,232.41 646.43,222.19 658.23,222.19" fill="#fff" stroke="#ff0000" stroke-width="2.2" stroke-linejoin="miter"/>
<polygon points="666.86,239.51 660.96,229.29 672.76,229.29" fill="#fff" stroke="#ff0000" stroke-width="2.2" stroke-linejoin="miter"/>
<polygon points="681.39,243.71 675.49,233.49 687.29,233.49" fill="#fff" stroke="#ff0000" stroke-width="2.2" stroke-linejoin="miter"/>
<polyline points="507.03,165.80 521.56,165.80 536.09,167.00 550.62,170.60 565.15,177.30 579.68,180.90 594.21,188.20 608.74,203.70 623.27,209.30 637.80,219.90 652.33,225.60 666.86,232.70 681.39,236.90" fill="none" stroke="#ff0000" stroke-width="3" stroke-linejoin="round"/>
<polygon points="507.03,158.99 501.13,169.21 512.93,169.21" fill="#fff" stroke="#ff0000" stroke-width="2.2" stroke-linejoin="miter"/>
<polygon points="521.56,158.99 515.66,169.21 527.46,169.21" fill="#fff" stroke="#ff0000" stroke-width="2.2" stroke-linejoin="miter"/>
<polygon points="536.09,160.19 530.19,170.41 541.99,170.41" fill="#fff" stroke="#ff0000" stroke-width="2.2" stroke-linejoin="miter"/>
<polygon points="550.62,163.79 544.72,174.01 556.52,174.01" fill="#fff" stroke="#ff0000" stroke-width="2.2" stroke-linejoin="miter"/>
<polygon points="565.15,170.49 559.25,180.71 571.05,180.71" fill="#fff" stroke="#ff0000" stroke-width="2.2" stroke-linejoin="miter"/>
<polygon points="579.68,174.09 573.78,184.31 585.58,184.31" fill="#fff" stroke="#ff0000" stroke-width="2.2" stroke-linejoin="miter"/>
<polygon points="594.21,181.39 588.31,191.61 600.11,191.61" fill="#fff" stroke="#ff0000" stroke-width="2.2" stroke-linejoin="miter"/>
<polygon points="608.74,196.89 602.84,207.11 614.64,207.11" fill="#fff" stroke="#ff0000" stroke-width="2.2" stroke-linejoin="miter"/>
<polygon points="623.27,202.49 617.37,212.71 629.17,212.71" fill="#fff" stroke="#ff0000" stroke-width="2.2" stroke-linejoin="miter"/>
<polygon points="637.80,213.09 631.90,223.31 643.70,223.31" fill="#fff" stroke="#ff0000" stroke-width="2.2" stroke-linejoin="miter"/>
<polygon points="652.33,218.79 646.43,229.01 658.23,229.01" fill="#fff" stroke="#ff0000" stroke-width="2.2" stroke-linejoin="miter"/>
<polygon points="666.86,225.89 660.96,236.11 672.76,236.11" fill="#fff" stroke="#ff0000" stroke-width="2.2" stroke-linejoin="miter"/>
<polygon points="681.39,230.09 675.49,240.31 687.29,240.31" fill="#fff" stroke="#ff0000" stroke-width="2.2" stroke-linejoin="miter"/>
<line x1="84.4" y1="173.1" x2="697.3" y2="173.1" stroke="#ff00ff" stroke-width="3.4" stroke-dasharray="8.2 5.85"/>
<g font-family="'Liberation Sans', sans-serif" font-weight="bold" fill="#000" stroke="#000" stroke-width="0.3" stroke-linejoin="round">
<text x="76.4" y="288.75" font-size="24" text-anchor="end" letter-spacing="-0.4">0.0</text>
<text x="76.4" y="223.50" font-size="24" text-anchor="end" letter-spacing="-0.4">0.2</text>
<text x="76.4" y="158.25" font-size="24" text-anchor="end" letter-spacing="-0.4">0.4</text>
<text x="76.4" y="93.00" font-size="24" text-anchor="end" letter-spacing="-0.4">0.6</text>
<text x="76.4" y="27.75" font-size="24" text-anchor="end" letter-spacing="-0.4">0.8</text>
<text x="100.73" y="308.5" font-size="24" text-anchor="middle">8</text>
<text x="158.85" y="308.5" font-size="24" text-anchor="middle">12</text>
<text x="216.97" y="308.5" font-size="24" text-anchor="middle">16</text>
<text x="275.09" y="308.5" font-size="24" text-anchor="middle">20</text>
<text x="304.03" y="308.5" font-size="24" text-anchor="middle">8</text>
<text x="362.15" y="308.5" font-size="24" text-anchor="middle">12</text>
<text x="420.27" y="308.5" font-size="24" text-anchor="middle">16</text>
<text x="478.39" y="308.5" font-size="24" text-anchor="middle">20</text>
<text x="507.23" y="308.5" font-size="24" text-anchor="middle">8</text>
<text x="565.35" y="308.5" font-size="24" text-anchor="middle">12</text>
<text x="623.47" y="308.5" font-size="24" text-anchor="middle">16</text>
<text x="681.59" y="308.5" font-size="24" text-anchor="middle">20</text>
<text x="394.8" y="342.8" font-size="27.7" text-anchor="middle">Spin I (ħ)</text>
<text transform="translate(27.4,153.5) rotate(-90)" font-size="27.7" text-anchor="middle">Orientation component</text>
<text x="257.2" y="203.4" font-size="28">j</text><text x="265.5" y="212.6" font-size="17">p</text>
<text x="316.7" y="201.6" font-size="28">j</text><text x="325.0" y="210.3" font-size="16.5">n</text>
<text x="540.1" y="130.6" font-size="28.5">J</text>
<text transform="translate(522.1,67.8) scale(0.93,1)" font-size="29.3" stroke-width="0.6">=</text>
<text transform="translate(538.5,68.6) scale(0.985,1.085)" font-size="29.3" stroke="#000" stroke-width="0.7" stroke-linejoin="round">30</text>
<text x="570.8" y="51.9" font-size="19">o</text>
</g>
<path d="M507.8 58.9 C508.2 55.6 509.6 53.1 511.6 53.1 C513.6 53.1 514.6 56.8 515.7 63.6 L519.9 53.6 L521.7 53.6 L516.5 67.2 C516.5 69.5 516.6 71.5 516.2 73.0 C515.8 74.6 514.9 75.4 514.0 75.4 C513.0 75.4 512.4 74.4 512.4 73.0 C512.4 71.2 513.6 69.6 514.1 67.6 C513.6 62.0 512.4 55.8 510.6 55.8 C509.6 55.8 509.0 57.2 508.7 58.9 Z" fill="#000" stroke="#000" stroke-width="0.5" stroke-linejoin="round"/>
</svg>
</body></html>
